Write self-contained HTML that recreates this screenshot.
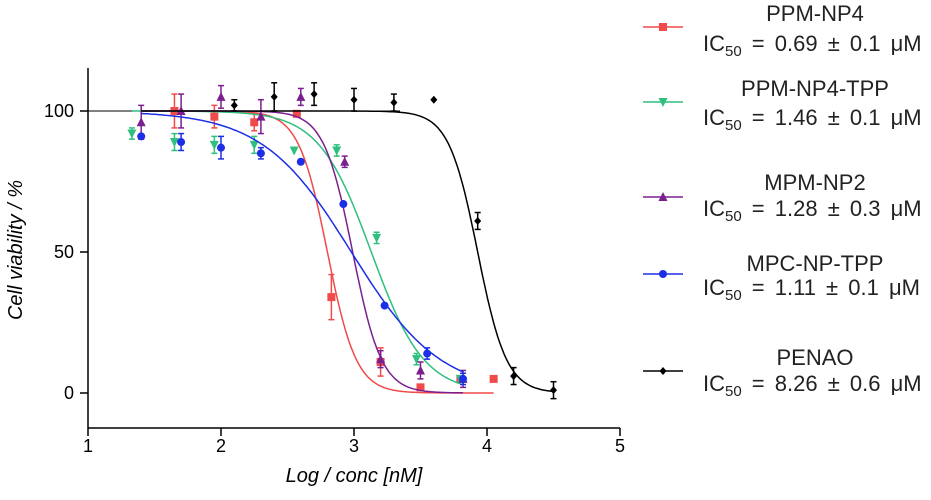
<!DOCTYPE html>
<html><head><meta charset="utf-8"><style>
body{margin:0;background:#fff;font-family:"Liberation Sans",sans-serif}
svg text{font-family:"Liberation Sans",sans-serif}
</style></head><body>
<svg id="c" width="931" height="495"></svg>
<script>
const xTicks=[1,2,3,4,5];
const yTicks=[0,50,100];
const names=["PPM-NP4","PPM-NP4-TPP","MPM-NP2","MPC-NP-TPP","PENAO"];
const ics=["0.69 ± 0.1 μM","1.46 ± 0.1 μM","1.28 ± 0.3 μM","1.11 ± 0.1 μM","8.26 ± 0.6 μM"];
const colors=["#f04a4a","#2fbf7f","#7b1f8f","#1c2fe6","#000"];
const shapes=["square","tridown","triup","circle","diamond"];
const logIC=[2.8,3.13,2.99,2.98,3.93];
const hill=[4,2.2,4,1.3,4];
const fitRange=[[1.4,4.05],[1.33,3.82],[1.4,3.82],[1.4,3.82],[1.4,4.5]];
const xs0=[1.65,1.95,2.25,2.57,2.83,3.2,3.5,3.8,4.05];
const ys0=[100,98,96,99,34,11,2,5,5];
const es0=[6,4,3,0,8,5,0,0,0];
const xs1=[1.33,1.65,1.95,2.25,2.55,2.87,3.17,3.47,3.8];
const ys1=[92,89,88,88,86,86,55,12,5];
const es1=[2,3,3,3,0,2,2,2,1];
const xs2=[1.4,1.7,2.0,2.3,2.6,2.93,3.2,3.5,3.82];
const ys2=[96,100,105,98,105,82,12,8,5];
const es2=[6,6,4,6,3,2,3,3,3];
const xs3=[1.4,1.7,2.0,2.3,2.6,2.92,3.23,3.55,3.82];
const ys3=[91,89,87,85,82,67,31,14,5];
const es3=[0,3,4,2,0,0,0,2,2];
const xs4=[2.1,2.4,2.7,3.0,3.3,3.6,3.93,4.2,4.5];
const ys4=[102,105,106,104,103,104,61,6,1];
const es4=[2,5,4,4,3,0,3,3,3];
const XS=[xs0,xs1,xs2,xs3,xs4],YS=[ys0,ys1,ys2,ys3,ys4],ES=[es0,es1,es2,es3,es4];
const svg=document.getElementById('c');const NS="http://www.w3.org/2000/svg";
function X(v){return 88+(v-1)*133;}
function Y(v){return 393-v*2.82;}
function mk(t,a,p){const e=document.createElementNS(NS,t);for(const k in a)e.setAttribute(k,a[k]);(p||svg).appendChild(e);return e;}
function marker(g,shape,cx,cy,col){
 if(shape=="square")mk('rect',{x:cx-4,y:cy-4,width:8,height:8,fill:col},g);
 else if(shape=="circle")mk('circle',{cx:cx,cy:cy,r:4,fill:col},g);
 else if(shape=="triup")mk('polygon',{points:`${cx},${cy-5} ${cx-4.5},${cy+4} ${cx+4.5},${cy+4}`,fill:col},g);
 else if(shape=="tridown")mk('polygon',{points:`${cx},${cy+5} ${cx-4.5},${cy-4} ${cx+4.5},${cy-4}`,fill:col},g);
 else mk('polygon',{points:`${cx},${cy-4} ${cx+3.5},${cy} ${cx},${cy+4} ${cx-3.5},${cy}`,fill:col},g);
}
const ax=mk('g',{});
mk('line',{x1:88,y1:68,x2:88,y2:428,stroke:'#000','stroke-width':1.5},ax);
mk('line',{x1:88,y1:428,x2:620,y2:428,stroke:'#000','stroke-width':1.5},ax);
xTicks.forEach(t=>{mk('line',{x1:X(t),y1:428,x2:X(t),y2:436,stroke:'#000','stroke-width':1.5},ax);
 const tx=mk('text',{x:X(t),y:452,'text-anchor':'middle','font-size':18},ax);tx.textContent=t;
 });
yTicks.forEach(t=>{mk('line',{x1:80,y1:Y(t),x2:88,y2:Y(t),stroke:'#000','stroke-width':1.5},ax);
 const tx=mk('text',{x:74,y:Y(t)+6,'text-anchor':'end','font-size':18},ax);tx.textContent=t;
 });
const xt=mk('text',{x:354,y:482,'text-anchor':'middle','font-size':20,'font-style':'italic'});xt.textContent='Log / conc [nM]';

const yt=mk('text',{x:22,y:250,'text-anchor':'middle','font-size':20,'font-style':'italic',transform:'rotate(-90 22 250)'});yt.textContent='Cell viability / %';

mk('line',{x1:88,y1:Y(100),x2:400,y2:Y(100),stroke:'#000','stroke-width':1});
for(let s=0;s<5;s++){
 const g=mk('g',{});
 let d='';const [a,b]=fitRange[s];
 for(let i=0;i<=200;i++){const x=a+(b-a)*i/200;const y=100/(1+Math.pow(10,(x-logIC[s])*hill[s]));d+=(i?'L':'M')+X(x).toFixed(1)+','+Y(y).toFixed(1);}
 mk('path',{d:d,fill:'none',stroke:colors[s],'stroke-width':1.5},g);
 XS[s].forEach((x,i)=>{const cx=X(x),cy=Y(YS[s][i]),e=ES[s][i]*2.82;
  if(e>0){mk('line',{x1:cx,y1:cy-e,x2:cx,y2:cy+e,stroke:colors[s],'stroke-width':1.5},g);
   mk('line',{x1:cx-3,y1:cy-e,x2:cx+3,y2:cy-e,stroke:colors[s],'stroke-width':1.5},g);
   mk('line',{x1:cx-3,y1:cy+e,x2:cx+3,y2:cy+e,stroke:colors[s],'stroke-width':1.5},g);}
  marker(g,shapes[s],cx,cy,colors[s]);});
}
const ly=[[13,27,43],[88,102,117],[182,197,208],[263,274,287],[357,371,383]];
for(let s=0;s<5;s++){
 const g=mk('g',{});
 mk('line',{x1:643,y1:ly[s][1],x2:683,y2:ly[s][1],stroke:colors[s],'stroke-width':1.5},g);
 marker(g,shapes[s],663,ly[s][1],colors[s]);
 const t1=mk('text',{x:815,y:ly[s][0]+8,'text-anchor':'middle','font-size':22,fill:'#222'},g);t1.textContent=names[s];
 const t2=mk('text',{x:703,y:ly[s][2]+8,'font-size':22,'word-spacing':4,fill:'#222'},g);
 t2.innerHTML='IC<tspan font-size="15" dy="5">50</tspan><tspan dy="-5"> = '+ics[s]+'</tspan>';
}
</script>
</body></html>
